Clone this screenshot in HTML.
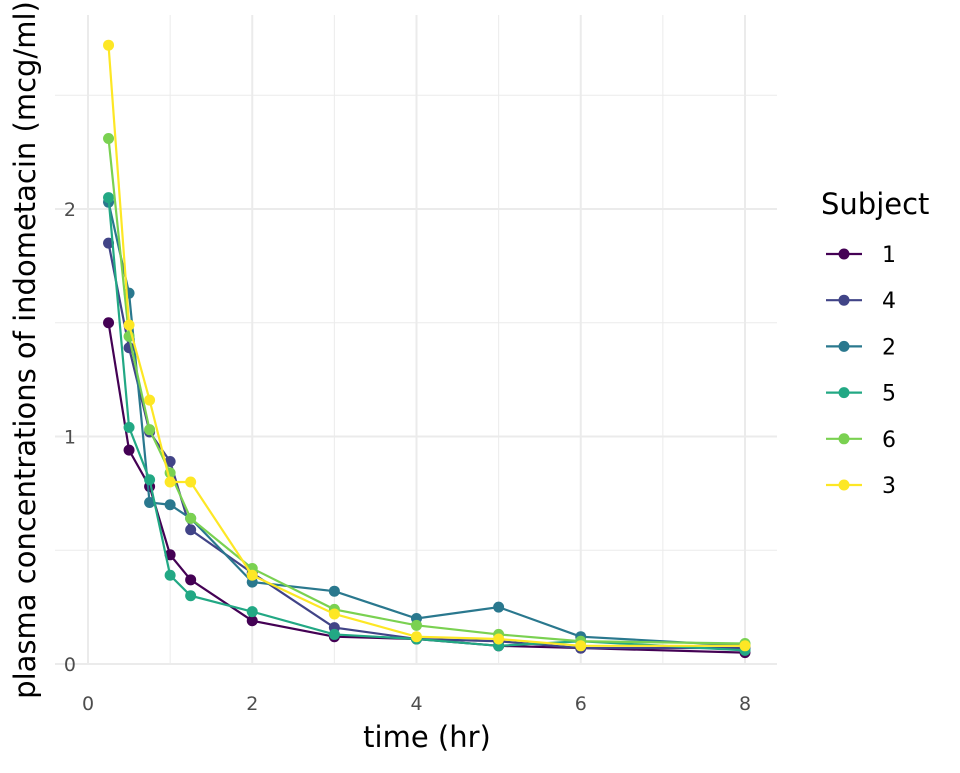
<!DOCTYPE html>
<html><head><meta charset="utf-8"><style>
html,body{margin:0;padding:0;background:#fff;}
svg text{font-family:"DejaVu Sans","Liberation Sans",sans-serif;}
</style></head><body>
<svg id="chart" width="960" height="768" xmlns="http://www.w3.org/2000/svg">
<g id="grid"></g>
<g id="series"></g>
<g id="axes"></g>
<text x="427" y="747" font-size="29" text-anchor="middle" fill="#000">time (hr)</text>
<text transform="translate(35,350) rotate(-90)" font-size="29" text-anchor="middle" fill="#000">plasma concentrations of indometacin (mcg/ml)</text>
<g id="legend">
<text x="821" y="214" font-size="29" fill="#000">Subject</text>
</g>
</svg>
<script>
const times=[0.25,0.5,0.75,1,1.25,2,3,4,5,6,8];
const subjects=["1","4","2","5","6","3"];
const s1=[1.50,0.94,0.78,0.48,0.37,0.19,0.12,0.11,0.08,0.07,0.05];
const s4=[1.85,1.39,1.02,0.89,0.59,0.40,0.16,0.11,0.10,0.07,0.07];
const s2=[2.03,1.63,0.71,0.70,0.64,0.36,0.32,0.20,0.25,0.12,0.08];
const s5=[2.05,1.04,0.81,0.39,0.30,0.23,0.13,0.11,0.08,0.10,0.06];
const s6=[2.31,1.44,1.03,0.84,0.64,0.42,0.24,0.17,0.13,0.10,0.09];
const s3=[2.72,1.49,1.16,0.80,0.80,0.39,0.22,0.12,0.11,0.08,0.08];
const xTicks=[0,2,4,6,8];
const yTicks=[0,1,2];
const series=[s1,s4,s2,s5,s6,s3];
const colors=["#440154","#414487","#2A788E","#22A884","#7AD151","#FDE725"];
const NS="http://www.w3.org/2000/svg";
const X=v=>88+v*(745-88)/8;
const Y=v=>664-v*(664-209)/2;
const L=55,R=777,T=15,B=665;
function mk(tag,attrs,parent){const e=document.createElementNS(NS,tag);for(const k in attrs)e.setAttribute(k,attrs[k]);parent.appendChild(e);return e;}
const grid=document.getElementById('grid'),axes=document.getElementById('axes'),ser=document.getElementById('series'),leg=document.getElementById('legend');
for(let v=1;v<8;v+=2){const l=mk('line',{x1:X(v),x2:X(v),y1:T,y2:B,stroke:'#ebebeb','stroke-width':1},grid);

}
for(let v=0.5;v<3;v+=1){const l=mk('line',{x1:L,x2:R,y1:Y(v),y2:Y(v),stroke:'#ebebeb','stroke-width':1},grid);

}
xTicks.forEach(v=>{const l=mk('line',{x1:X(v),x2:X(v),y1:T,y2:B,stroke:'#ebebeb','stroke-width':2},grid);


const t=mk('text',{x:X(v),y:710,'font-size':19,'text-anchor':'middle',fill:'#4d4d4d'},axes);t.textContent=v;

});
yTicks.forEach(v=>{const l=mk('line',{x1:L,x2:R,y1:Y(v),y2:Y(v),stroke:'#ebebeb','stroke-width':2},grid);


const t=mk('text',{x:76,y:Y(v)+7,'font-size':19,'text-anchor':'end',fill:'#4d4d4d'},axes);t.textContent=v;

});
series.forEach((d,i)=>{
const g=mk('g',{},ser);


const p=mk('polyline',{points:d.map((v,j)=>X(times[j])+','+Y(v)).join(' '),fill:'none',stroke:colors[i],'stroke-width':2.2},g);


d.forEach((v,j)=>{const c=mk('circle',{cx:X(times[j]),cy:Y(v),r:5.5,fill:colors[i]},g);

});
const y=254+i*46.2;
const e=mk('g',{},leg);


mk('line',{x1:826,x2:862,y1:y,y2:y,stroke:colors[i],'stroke-width':2.2},e);
mk('circle',{cx:844,cy:y,r:5.5,fill:colors[i]},e);
const t=mk('text',{x:882,y:y+8,'font-size':22,fill:'#000'},e);t.textContent=subjects[i];
});
</script>
</body></html>
